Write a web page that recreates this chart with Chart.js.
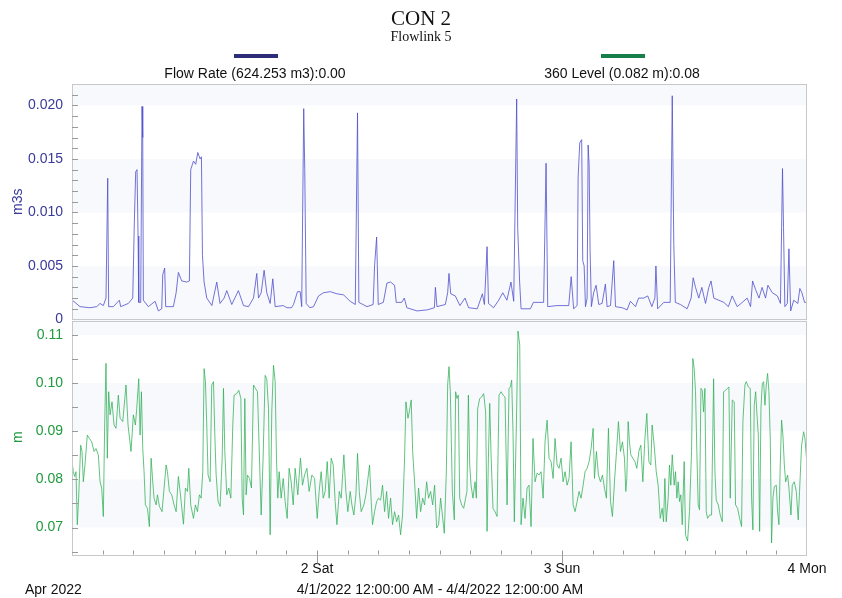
<!DOCTYPE html>
<html lang="en">
<head>
<meta charset="UTF-8">
<title>CON 2 - Flowlink 5</title>
<script src="https://cdn.jsdelivr.net/npm/chart.js"></script>
<style>
  body { margin: 0; background: #fff; font-family: 'Liberation Sans', Arial, sans-serif; }
  .wrap { position: relative; width: 842px; height: 598px; overflow: hidden; }
  #chart { position: absolute; left: 0; top: 0; }
  .txt { position: absolute; white-space: nowrap; line-height: 1; color: #111; }
  .serif { font-family: 'Liberation Serif', 'Times New Roman', serif; }
  .bar { position: absolute; height: 4px; width: 44px; }
</style>
</head>
<body>
<div class="wrap">
  <canvas id="chart" width="842" height="598"></canvas>

  <!-- header -->
  <div class="txt serif" style="left:0;width:842px;text-align:center;top:8px;font-size:21px;">CON 2</div>
  <div class="txt serif" style="left:0;width:842px;text-align:center;top:30px;font-size:14px;">Flowlink 5</div>

  <!-- legend -->
  <div class="bar" style="left:234px;top:54px;background:#2c2c78;"></div>
  <div class="txt" style="left:105px;width:300px;text-align:center;top:66px;font-size:14px;">Flow Rate (624.253 m3):0.00</div>
  <div class="bar" style="left:601px;top:54px;background:#17804a;"></div>
  <div class="txt" style="left:472px;width:300px;text-align:center;top:66px;font-size:14px;">360 Level (0.082 m):0.08</div>

  <!-- footer -->
  <div class="txt" style="left:25px;top:582px;font-size:14px;">Apr 2022</div>
  <div class="txt" style="left:240px;width:400px;text-align:center;top:582px;font-size:14px;">4/1/2022 12:00:00 AM - 4/4/2022 12:00:00 AM</div>
</div>

<script>
// hours since 4/1/2022 00:00
const flowHours = [
  0.00, 0.29, 0.78, 1.76, 2.42, 2.75, 3.07, 3.33, 3.50, 3.59, 4.05, 4.64, 4.77, 5.52, 5.95, 6.11, 6.24, 6.37, 6.47, 6.54,
  6.73, 6.86, 6.93, 6.99, 7.48, 8.14, 8.46, 8.79, 8.89, 9.08, 9.18, 9.93, 10.20, 10.42, 10.75, 11.24, 11.50, 11.63, 11.90, 12.12,
  12.32, 12.55, 12.68, 12.78, 12.94, 13.20, 13.70, 14.18, 14.50, 14.90, 15.16, 15.65, 16.30, 16.80, 17.29, 17.78, 18.10, 18.27, 18.53, 18.82,
  19.08, 19.41, 19.67, 19.90, 20.70, 21.05, 21.50, 21.70, 22.09, 22.35, 22.50, 22.70, 22.80, 22.94, 23.30, 23.66, 24.15, 24.64, 25.30, 25.95,
  26.60, 27.25, 27.75, 27.97, 28.10, 28.90, 29.50, 29.64, 29.84, 30.00, 30.50, 30.85, 31.20, 31.60, 31.76, 32.30, 32.55, 32.80, 33.80, 34.80,
  35.50, 35.60, 35.75, 36.57, 36.80, 36.93, 37.10, 37.55, 38.00, 38.50, 38.85, 39.70, 40.20, 40.40, 40.66, 40.80, 41.30, 41.80, 42.20, 42.60,
  43.00, 43.27, 43.56, 43.66, 43.85, 43.99, 44.90, 45.20, 46.20, 46.44, 46.60, 47.50, 48.66, 48.90, 49.14, 49.48, 49.58, 49.74, 49.93, 50.03,
  50.17, 50.30, 50.46, 50.56, 50.66, 50.75, 50.88, 51.10, 51.34, 51.60, 51.93, 52.25, 52.42, 52.75, 53.07, 53.24, 53.90, 54.38, 54.70, 55.20,
  55.50, 56.00, 56.40, 56.80, 57.10, 57.20, 57.37, 57.97, 58.60, 58.80, 58.95, 59.10, 59.60, 60.26, 60.65, 60.85, 61.08, 61.40, 61.70, 62.06,
  62.38, 62.60, 62.87, 63.36, 63.85, 64.30, 64.67, 65.16, 65.66, 66.14, 66.47, 66.67, 66.96, 67.30, 67.60, 67.94, 68.17, 68.60, 69.10, 69.40,
  69.60, 69.70, 69.83, 70.07, 70.23, 70.40, 70.70, 71.10, 71.30, 71.50, 71.76, 72.00
];
const flowRate = [
  0.0018, 0.0016, 0.0012, 0.0011, 0.0012, 0.0015, 0.0013, 0.0020, 0.0132, 0.0012, 0.0012, 0.0018, 0.0012, 0.0015, 0.0020, 0.0092, 0.0138, 0.0140, 0.0078, 0.0016,
  0.0016, 0.0199, 0.0170, 0.0018, 0.0012, 0.0017, 0.0008, 0.0010, 0.0042, 0.0048, 0.0012, 0.0012, 0.0025, 0.0044, 0.0036, 0.0035, 0.0036, 0.0140, 0.0148, 0.0145,
  0.0156, 0.0150, 0.0152, 0.0060, 0.0035, 0.0020, 0.0013, 0.0035, 0.0015, 0.0020, 0.0027, 0.0014, 0.0027, 0.0013, 0.0012, 0.0020, 0.0043, 0.0020, 0.0025, 0.0046,
  0.0025, 0.0015, 0.0038, 0.0012, 0.0013, 0.0011, 0.0011, 0.0014, 0.0026, 0.0026, 0.0012, 0.0197, 0.0140, 0.0015, 0.0011, 0.0012, 0.0022, 0.0025, 0.0026, 0.0024,
  0.0023, 0.0017, 0.0014, 0.0193, 0.0016, 0.0012, 0.0014, 0.0050, 0.0077, 0.0014, 0.0016, 0.0034, 0.0035, 0.0032, 0.0016, 0.0016, 0.0020, 0.0011, 0.0008, 0.0009,
  0.0011, 0.0030, 0.0012, 0.0014, 0.0025, 0.0043, 0.0024, 0.0022, 0.0013, 0.0020, 0.0011, 0.0010, 0.0024, 0.0014, 0.0068, 0.0015, 0.0011, 0.0018, 0.0025, 0.0018,
  0.0035, 0.0017, 0.0206, 0.0086, 0.0035, 0.0010, 0.0010, 0.0016, 0.0016, 0.0146, 0.0012, 0.0013, 0.0013, 0.0040, 0.0010, 0.0013, 0.0133, 0.0165, 0.0168, 0.0055,
  0.0050, 0.0012, 0.0020, 0.0163, 0.0144, 0.0065, 0.0012, 0.0025, 0.0032, 0.0014, 0.0015, 0.0033, 0.0012, 0.0013, 0.0055, 0.0012, 0.0011, 0.0009, 0.0017, 0.0012,
  0.0020, 0.0020, 0.0022, 0.0012, 0.0020, 0.0050, 0.0010, 0.0016, 0.0016, 0.0209, 0.0070, 0.0016, 0.0014, 0.0010, 0.0020, 0.0039, 0.0030, 0.0020, 0.0030, 0.0015,
  0.0030, 0.0036, 0.0020, 0.0018, 0.0016, 0.0012, 0.0022, 0.0012, 0.0016, 0.0020, 0.0012, 0.0036, 0.0028, 0.0020, 0.0030, 0.0020, 0.0032, 0.0025, 0.0022, 0.0015,
  0.0141, 0.0086, 0.0012, 0.0015, 0.0066, 0.0008, 0.0018, 0.0015, 0.0029, 0.0025, 0.0016, 0.0016
];

const levelHours = [
  0.00, 0.13, 0.26, 0.39, 0.52, 0.65, 0.85, 0.98, 1.11, 1.27, 1.50, 1.70, 1.93, 2.16, 2.35, 2.58, 2.75, 2.91, 3.07, 3.20,
  3.33, 3.46, 3.59, 3.73, 3.92, 4.12, 4.31, 4.54, 4.71, 4.97, 5.29, 5.49, 5.78, 6.01, 6.21, 6.34, 6.54, 6.67, 6.80, 6.93,
  7.06, 7.19, 7.39, 7.58, 7.75, 7.91, 8.04, 8.24, 8.37, 8.56, 8.82, 9.02, 9.22, 9.35, 9.54, 9.77, 10.00, 10.20, 10.42, 10.59,
  10.92, 11.11, 11.31, 11.44, 11.63, 11.90, 12.09, 12.29, 12.48, 12.65, 12.81, 12.94, 13.07, 13.20, 13.33, 13.53, 13.69, 13.86, 13.99, 14.12,
  14.31, 14.51, 14.71, 14.84, 14.97, 15.16, 15.36, 15.56, 15.75, 15.88, 16.14, 16.34, 16.54, 16.67, 16.80, 16.93, 17.06, 17.19, 17.39, 17.58,
  17.78, 17.97, 18.17, 18.53, 18.72, 18.92, 19.08, 19.25, 19.41, 19.57, 19.74, 19.90, 20.03, 20.16, 20.29, 20.49, 20.69, 20.88, 21.08, 21.27,
  21.47, 21.67, 21.86, 22.12, 22.38, 22.58, 22.78, 23.01, 23.23, 23.50, 23.76, 24.02, 24.21, 24.41, 24.61, 24.80, 25.00, 25.19, 25.39, 25.59,
  25.78, 25.95, 26.18, 26.37, 26.63, 26.83, 27.02, 27.25, 27.42, 27.61, 27.81, 27.97, 28.14, 28.33, 28.59, 28.79, 28.99, 29.15, 29.31, 29.44,
  29.64, 29.84, 30.03, 30.23, 30.42, 30.62, 30.82, 31.01, 31.21, 31.40, 31.60, 31.80, 31.99, 32.19, 32.38, 32.58, 32.71, 32.91, 33.04, 33.23,
  33.37, 33.56, 33.76, 33.95, 34.15, 34.35, 34.54, 34.74, 34.93, 35.13, 35.33, 35.52, 35.72, 35.91, 36.11, 36.28, 36.47, 36.67, 36.80, 36.93,
  37.06, 37.26, 37.45, 37.58, 37.71, 37.84, 37.98, 38.17, 38.37, 38.56, 38.69, 38.83, 38.96, 39.09, 39.28, 39.48, 39.61, 39.74, 39.94, 40.13,
  40.33, 40.52, 40.66, 40.79, 40.92, 41.05, 41.24, 41.44, 41.64, 41.83, 42.03, 42.22, 42.42, 42.62, 42.81, 42.94, 43.07, 43.20, 43.33, 43.53,
  43.69, 43.86, 43.99, 44.18, 44.38, 44.58, 44.77, 44.97, 45.16, 45.36, 45.56, 45.75, 45.95, 46.15, 46.34, 46.54, 46.73, 46.93, 47.13, 47.32,
  47.52, 47.71, 47.91, 48.11, 48.30, 48.50, 48.69, 48.89, 49.09, 49.28, 49.48, 49.67, 49.87, 50.07, 50.26, 50.46, 50.66, 50.85, 51.05, 51.18,
  51.37, 51.57, 51.77, 51.96, 52.16, 52.35, 52.55, 52.75, 52.94, 53.14, 53.34, 53.53, 53.73, 53.92, 54.12, 54.25, 54.35, 54.48, 54.61, 54.74,
  54.94, 55.14, 55.33, 55.53, 55.72, 55.92, 56.12, 56.31, 56.51, 56.70, 56.83, 57.03, 57.23, 57.42, 57.62, 57.81, 57.95, 58.08, 58.21, 58.40,
  58.53, 58.66, 58.80, 58.99, 59.12, 59.25, 59.38, 59.51, 59.64, 59.78, 59.97, 60.10, 60.30, 60.49, 60.69, 60.82, 60.95, 61.08, 61.21, 61.34,
  61.47, 61.61, 61.74, 61.87, 62.00, 62.13, 62.26, 62.46, 62.65, 62.85, 62.98, 63.11, 63.31, 63.50, 63.70, 63.83, 64.02, 64.22, 64.35, 64.48,
  64.68, 64.87, 65.00, 65.20, 65.40, 65.59, 65.72, 65.92, 66.05, 66.25, 66.44, 66.57, 66.70, 66.83, 66.97, 67.10, 67.23, 67.36, 67.49, 67.62,
  67.75, 67.88, 68.01, 68.14, 68.27, 68.40, 68.53, 68.66, 68.80, 68.99, 69.12, 69.25, 69.38, 69.51, 69.64, 69.78, 69.91, 70.10, 70.23, 70.43,
  70.56, 70.75, 70.95, 71.14, 71.27, 71.47, 71.67, 71.80, 72.00
];
const levelM = [
  0.0837, 0.0816, 0.0806, 0.0816, 0.0706, 0.0761, 0.0871, 0.0858, 0.0795, 0.0830, 0.0892, 0.0885, 0.0878, 0.0858, 0.0864, 0.0851, 0.0795, 0.0782, 0.0723, 0.0913,
  0.1041, 0.0844, 0.0982, 0.0934, 0.0961, 0.0913, 0.0906, 0.0975, 0.0927, 0.0920, 0.0996, 0.0913, 0.0858, 0.0934, 0.0913, 0.0947, 0.1009, 0.0892, 0.0982, 0.0864,
  0.0816, 0.0747, 0.0740, 0.0702, 0.0844, 0.0795, 0.0761, 0.0747, 0.0768, 0.0744, 0.0733, 0.0782, 0.0830, 0.0816, 0.0775, 0.0768, 0.0747, 0.0733, 0.0806, 0.0775,
  0.0707, 0.0782, 0.0775, 0.0823, 0.0747, 0.0719, 0.0747, 0.0733, 0.0768, 0.0761, 0.0816, 0.1030, 0.1003, 0.0913, 0.0809, 0.0795, 0.0996, 0.1003, 0.0892, 0.0809,
  0.0754, 0.0744, 0.0844, 0.0989, 0.0858, 0.0768, 0.0782, 0.0761, 0.0913, 0.0975, 0.0978, 0.0985, 0.0968, 0.0761, 0.0726, 0.0968, 0.0768, 0.0809, 0.0802, 0.0782,
  0.0996, 0.0989, 0.0982, 0.0726, 0.0844, 0.1016, 0.1009, 0.0947, 0.0685, 0.0940, 0.1037, 0.1003, 0.0844, 0.0761, 0.0816, 0.0761, 0.0802, 0.0754, 0.0719, 0.0823,
  0.0795, 0.0747, 0.0823, 0.0768, 0.0844, 0.0788, 0.0809, 0.0823, 0.0775, 0.0809, 0.0802, 0.0719, 0.0775, 0.0816, 0.0761, 0.0775, 0.0837, 0.0761, 0.0844, 0.0830,
  0.0754, 0.0706, 0.0775, 0.0761, 0.0851, 0.0775, 0.0733, 0.0775, 0.0747, 0.0726, 0.0768, 0.0854, 0.0775, 0.0733, 0.0747, 0.0768, 0.0802, 0.0830, 0.0754, 0.0706,
  0.0733, 0.0754, 0.0761, 0.0757, 0.0788, 0.0733, 0.0775, 0.0719, 0.0761, 0.0706, 0.0733, 0.0712, 0.0726, 0.0685, 0.0726, 0.0844, 0.0961, 0.0927, 0.0940, 0.0965,
  0.0858, 0.0795, 0.0719, 0.0782, 0.0733, 0.0761, 0.0747, 0.0795, 0.0761, 0.0775, 0.0747, 0.0788, 0.0699, 0.0706, 0.0761, 0.0726, 0.0688, 0.0816, 0.0996, 0.1034,
  0.0982, 0.0775, 0.0716, 0.0982, 0.0968, 0.0975, 0.0761, 0.0747, 0.0740, 0.0761, 0.0775, 0.0975, 0.0830, 0.0788, 0.0761, 0.0795, 0.0761, 0.0947, 0.0968, 0.0971,
  0.0978, 0.0940, 0.0692, 0.0844, 0.0958, 0.0851, 0.0740, 0.0733, 0.0723, 0.0975, 0.0982, 0.0975, 0.0971, 0.0747, 0.0989, 0.0992, 0.1006, 0.0899, 0.0712, 0.0913,
  0.1108, 0.1079, 0.0706, 0.0761, 0.0719, 0.0782, 0.0788, 0.0702, 0.0885, 0.0795, 0.0813, 0.0809, 0.0816, 0.0761, 0.0878, 0.0923, 0.0844, 0.0837, 0.0802, 0.0885,
  0.0830, 0.0823, 0.0844, 0.0795, 0.0816, 0.0788, 0.0802, 0.0878, 0.0747, 0.0733, 0.0754, 0.0775, 0.0761, 0.0788, 0.0816, 0.0823, 0.0837, 0.0864, 0.0906, 0.0802,
  0.0858, 0.0809, 0.0795, 0.0809, 0.0782, 0.0761, 0.0906, 0.0754, 0.0723, 0.0795, 0.0858, 0.0920, 0.0858, 0.0878, 0.0844, 0.0775, 0.0802, 0.0920, 0.0878, 0.0851,
  0.0844, 0.0837, 0.0823, 0.0858, 0.0871, 0.0795, 0.0885, 0.0937, 0.0837, 0.0830, 0.0913, 0.0871, 0.0816, 0.0788, 0.0719, 0.0740, 0.0712, 0.0802, 0.0712, 0.0761,
  0.0830, 0.0788, 0.0851, 0.0788, 0.0816, 0.0761, 0.0795, 0.0754, 0.0768, 0.0706, 0.0837, 0.0685, 0.0672, 0.0733, 0.0858, 0.1051, 0.1030, 0.0982, 0.0858, 0.0747,
  0.0737, 0.0989, 0.0985, 0.0940, 0.0989, 0.0733, 0.0719, 0.0726, 0.0726, 0.1009, 0.0816, 0.0757, 0.0747, 0.0726, 0.0712, 0.0982, 0.0985, 0.0989, 0.0992, 0.0761,
  0.0965, 0.0961, 0.0747, 0.0740, 0.0719, 0.0702, 0.0920, 0.0996, 0.1003, 0.0992, 0.0989, 0.0761, 0.0695, 0.0954, 0.0982, 0.0934, 0.0892, 0.0692, 0.0947, 0.0999,
  0.1003, 0.0954, 0.0996, 0.1020, 0.0982, 0.0885, 0.0668, 0.0761, 0.0785, 0.0788, 0.0733, 0.0706, 0.0830, 0.0923, 0.0892, 0.0830, 0.0795, 0.0809, 0.0782, 0.0726,
  0.0788, 0.0795, 0.0775, 0.0716, 0.0775, 0.0871, 0.0899, 0.0885, 0.0830
];

const flowTicks = [0, 0.005, 0.010, 0.015, 0.020];
const flowTickLabels = ['0', '0.005', '0.010', '0.015', '0.020'];
const levelTicks = [0.07, 0.08, 0.09, 0.10, 0.11];
const levelTickLabels = ['0.07', '0.08', '0.09', '0.10', '0.11'];
const dayHours = [24, 48, 72];
const dayLabels = ['2 Sat', '3 Sun', '4 Mon'];

const blue = '#3a3a9c';
const green = '#1f9a3e';
const frameColor = '#c8c8c8';
const bandColor = '#f8f9fc';

function pairs(xs, ys) {
  return xs.map((x, i) => ({ x: x, y: ys[i] }));
}

// faint bands, panel frames and the small tick marks inside each panel
const panelDecor = {
  id: 'panelDecor',
  beforeDatasetsDraw(chart) {
    const { ctx, chartArea } = chart;
    const yF = chart.scales.yF, yL = chart.scales.yL;
    ctx.save();
    ctx.fillStyle = bandColor;
    const band = (s, lo, hi) => {
      const top = s.getPixelForValue(hi), bot = s.getPixelForValue(lo);
      ctx.fillRect(chartArea.left, top, chartArea.right - chartArea.left, bot - top);
    };
    band(yF, 0.020, yF.max); band(yF, 0.010, 0.015); band(yF, 0, 0.005);
    band(yL, 0.11, yL.max); band(yL, 0.09, 0.10); band(yL, 0.07, 0.08);
    ctx.restore();
  },
  afterDatasetsDraw(chart) {
    const { ctx, chartArea } = chart;
    const x = chart.scales.x, yF = chart.scales.yF, yL = chart.scales.yL;
    const L = chartArea.left, R = chartArea.right;
    ctx.save();
    ctx.strokeStyle = frameColor;
    ctx.lineWidth = 1;
    ctx.strokeRect(L + 0.5, Math.round(yF.top) + 0.5, R - L - 1, Math.round(yF.bottom - yF.top) - 1);
    ctx.strokeRect(L + 0.5, Math.round(yL.top) + 1.5, R - L - 1, Math.round(yL.bottom - yL.top) - 2);

    ctx.strokeStyle = '#9a9a9a';
    ctx.beginPath();
    for (let v = 0.001; v < 0.0215; v += 0.001) {
      const p = Math.round(yF.getPixelForValue(v)) + 0.5;
      ctx.moveTo(L, p); ctx.lineTo(L + 6, p);
    }
    for (let v = 0.065; v < 0.1125; v += 0.005) {
      const p = Math.round(yL.getPixelForValue(v)) + 0.5;
      ctx.moveTo(L, p); ctx.lineTo(L + 6, p);
    }
    const b = Math.round(yL.bottom) - 0.5;
    for (let h = 3; h < 72; h += 3) {
      const p = Math.round(x.getPixelForValue(h)) + 0.5;
      if (h % 24 === 0) { ctx.moveTo(p, b - 4); ctx.lineTo(p, b + 9); }
      else { ctx.moveTo(p, b - 4); ctx.lineTo(p, b); }
    }
    ctx.stroke();
    ctx.restore();
  }
};

const tickFont = { family: "'Liberation Sans', Arial, sans-serif", size: 14 };
const noGrid = { display: false, drawTicks: false, tickLength: 0 };

new Chart(document.getElementById('chart'), {
  type: 'line',
  data: {
    datasets: [
      {
        label: 'Flow Rate',
        data: pairs(flowHours, flowRate),
        yAxisID: 'yF',
        borderColor: 'rgba(80, 80, 205, 0.8)',
        borderWidth: 1,
        pointRadius: 0,
        tension: 0,
        fill: false
      },
      {
        label: '360 Level',
        data: pairs(levelHours, levelM),
        yAxisID: 'yL',
        borderColor: 'rgba(45, 175, 85, 0.75)',
        borderWidth: 1,
        pointRadius: 0,
        tension: 0,
        fill: false
      }
    ]
  },
  options: {
    responsive: false,
    animation: false,
    events: [],
    layout: { padding: { top: 84, right: 35, left: 0, bottom: 0 } },
    plugins: { legend: { display: false }, title: { display: false }, tooltip: { enabled: false } },
    scales: {
      x: {
        type: 'linear',
        min: 0,
        max: 72,
        afterBuildTicks: (s) => { s.ticks = dayHours.map(v => ({ value: v })); },
        afterFit: (s) => { s.height = 43; },
        ticks: {
          autoSkip: false,
          maxRotation: 0,
          padding: 6,
          color: '#111',
          font: tickFont,
          callback: (v) => dayLabels[dayHours.indexOf(v)] || ''
        },
        grid: noGrid,
        border: { display: false }
      },
      yF: {
        type: 'linear',
        position: 'left',
        stack: 'panels',
        stackWeight: 1,
        weight: 1,
        min: 0,
        max: 0.022,
        afterBuildTicks: (s) => { s.ticks = flowTicks.map(v => ({ value: v })); },
        afterFit: (s) => { s.width = 72; },
        ticks: {
          padding: 9,
          color: blue,
          font: tickFont,
          callback: (v) => flowTickLabels[flowTicks.indexOf(v)] || ''
        },
        grid: noGrid,
        border: { display: false },
        title: { display: true, text: 'm3s', color: blue, font: tickFont, padding: { top: 10, bottom: 0 } }
      },
      yL: {
        type: 'linear',
        position: 'left',
        stack: 'panels',
        stackWeight: 1,
        weight: 0,
        min: 0.0643,
        max: 0.1132,
        afterBuildTicks: (s) => { s.ticks = levelTicks.map(v => ({ value: v })); },
        afterFit: (s) => { s.width = 72; },
        ticks: {
          padding: 9,
          color: green,
          font: tickFont,
          callback: (v) => levelTickLabels[levelTicks.indexOf(v)] || ''
        },
        grid: noGrid,
        border: { display: false },
        title: { display: true, text: 'm', color: green, font: tickFont, padding: { top: 10, bottom: 0 } }
      }
    }
  },
  plugins: [panelDecor]
});
</script>
</body>
</html>
